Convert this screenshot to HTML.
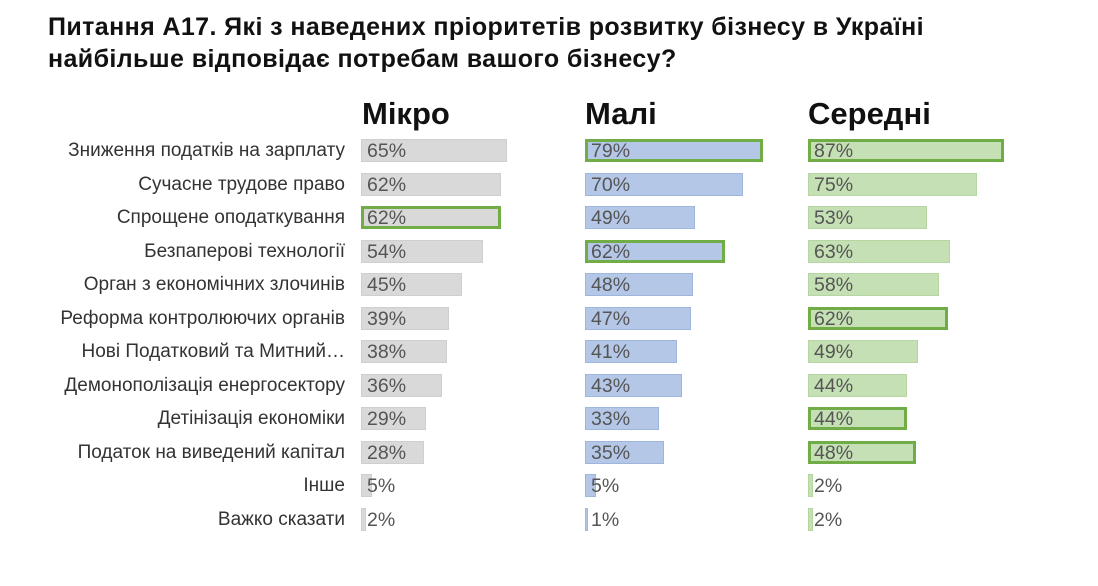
<!DOCTYPE html><html><head><meta charset="utf-8"><style>
body{margin:0;width:1098px;height:586px;background:#fff;font-family:"Liberation Sans",sans-serif;position:relative;overflow:hidden}
.t{position:absolute;left:48px;top:11px;font-size:25px;font-weight:bold;line-height:32px;color:#111;white-space:nowrap;letter-spacing:0.4px}
.h{position:absolute;top:96px;font-size:31px;font-weight:bold;color:#111}
.l{position:absolute;right:753px;font-size:19px;color:#333;white-space:nowrap;line-height:23px}
.b{position:absolute;height:23px;box-sizing:border-box}
.v{position:absolute;font-size:19.5px;color:#555;line-height:24px}
.hl{border:3px solid #70ad47}
</style></head><body>
<div class="t">Питання А17. Які з наведених пріоритетів розвитку бізнесу в Україні<br>найбільше відповідає потребам вашого бізнесу?</div>
<div class="h" style="left:362px">Мікро</div>
<div class="h" style="left:585px">Малі</div>
<div class="h" style="left:808px">Середні</div>
<div id="c"></div>
<script>
const L=["Зниження податків на зарплату","Сучасне трудове право","Спрощене оподаткування","Безпаперові технології","Орган з економічних злочинів","Реформа контролюючих органів","Нові Податковий та Митний…","Демонополізація енергосектору","Детінізація економіки","Податок на виведений капітал","Інше","Важко сказати"];
const D=[[65,62,62,54,45,39,38,36,29,28,5,2],[79,70,49,62,48,47,41,43,33,35,5,1],[87,75,53,63,58,62,49,44,44,48,2,2]];
const H=[[2],[0,3],[0,5,8,9]];
const X=[361,585,808],C=["#d9d9d9","#b4c7e7","#c5e0b4"],BC=["#cfcfcf","#9fb6dc","#b5d6a0"];
let s="";
L.forEach((t,i)=>{const y=139+i*33.5;s+=`<div class="l" style="top:${y}px">${t}</div>`;
for(let k=0;k<3;k++){const w=Math.max(D[k][i]*2.25,3);const hl=H[k].includes(i);
s+=`<div class="b${hl?' hl':''}" style="left:${X[k]}px;top:${y}px;width:${w}px;background:${C[k]};${hl?'':'border:1px solid '+BC[k]}"></div><div class="v" style="left:${X[k]+6}px;top:${y}px">${D[k][i]}%</div>`;}});
document.getElementById("c").innerHTML=s;
</script></body></html>
